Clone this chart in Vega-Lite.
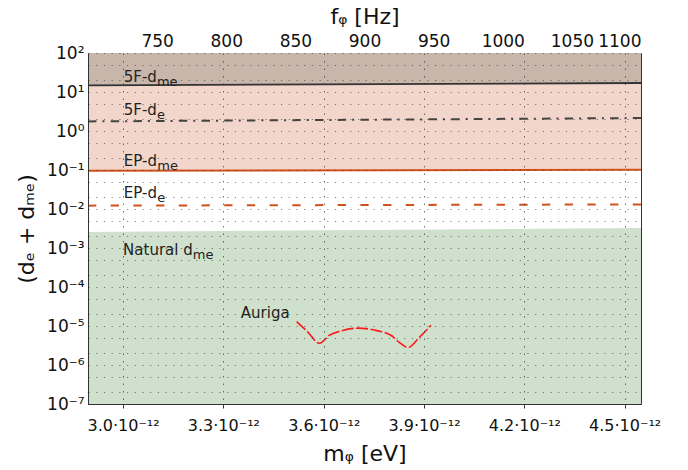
{
  "$schema": "https://vega.github.io/schema/vega-lite/v6.json",
  "width": 553,
  "height": 351,
  "autosize": {"type": "none"},
  "padding": {"left": 88, "top": 53, "right": 47, "bottom": 66},
  "config": {
    "font": "DejaVu Sans",
    "view": {"stroke": "#333", "strokeWidth": 1},
    "axis": {"labelColor": "#111", "titleColor": "#111", "titleFontWeight": "normal", "domainColor": "#333", "tickColor": "#333"}
  },
  "datasets": {
    "bands": [
      {"band": "5F", "m": 2.895, "lo": 14.8, "hi": 100},
      {"band": "5F", "m": 4.549, "lo": 17, "hi": 100},
      {"band": "EP", "m": 2.895, "lo": 0.096, "hi": 14.8},
      {"band": "EP", "m": 4.549, "lo": 0.102, "hi": 17},
      {"band": "Nat", "m": 2.895, "lo": 1e-7, "hi": 0.00257},
      {"band": "Nat", "m": 4.549, "lo": 1e-7, "hi": 0.00326}
    ],
    "lines": [
      {"s": "5F-dme", "m": 2.895, "v": 14.8},
      {"s": "5F-dme", "m": 4.549, "v": 17},
      {"s": "5F-de", "m": 2.895, "v": 1.76},
      {"s": "5F-de", "m": 4.549, "v": 2.15},
      {"s": "EP-dme", "m": 2.895, "v": 0.096},
      {"s": "EP-dme", "m": 4.549, "v": 0.102},
      {"s": "EP-de", "m": 2.895, "v": 0.0122},
      {"s": "EP-de", "m": 4.549, "v": 0.0131}
    ],
    "auriga": [
      {"m": 3.519, "v": 1.3e-5},
      {"m": 3.552, "v": 7.1e-6},
      {"m": 3.587, "v": 3.6e-6},
      {"m": 3.617, "v": 5.8e-6},
      {"m": 3.652, "v": 7.5e-6},
      {"m": 3.702, "v": 8.8e-6},
      {"m": 3.762, "v": 7.5e-6},
      {"m": 3.801, "v": 5.8e-6},
      {"m": 3.826, "v": 3.8e-6},
      {"m": 3.852, "v": 2.8e-6},
      {"m": 3.886, "v": 5.1e-6},
      {"m": 3.921, "v": 1.05e-5}
    ],
    "labels": [
      {"t": "5F-d", "m": 3.002, "v": 17.6},
      {"t": "5F-d", "m": 3.002, "v": 2.62},
      {"t": "EP-d", "m": 3.002, "v": 0.129},
      {"t": "EP-d", "m": 3.002, "v": 0.0191},
      {"t": "Natural d", "m": 3.0, "v": 0.000645},
      {"t": "Auriga", "m": 3.352, "v": 1.6e-5}
    ],
    "subs": [
      {"t": "me", "m": 3.1012, "v": 17.6},
      {"t": "e", "m": 3.1012, "v": 2.62},
      {"t": "me", "m": 3.1024, "v": 0.129},
      {"t": "e", "m": 3.1024, "v": 0.0191},
      {"t": "me", "m": 3.2084, "v": 0.000645}
    ],
    "freq": [{"f": 700}, {"f": 1100}]
  },
  "layer": [
    {
      "layer": [
        {
          "data": {"name": "bands"},
          "mark": {"type": "area", "opacity": 1},
          "encoding": {
            "x": {"field": "m", "type": "quantitative", "scale": {"domain": [2.895, 4.549], "nice": false, "zero": false},
              "axis": {"orient": "bottom", "values": [3.0, 3.3, 3.6, 3.9, 4.2, 4.5], "labelExpr": "format(datum.value, '.1f') + '·10⁻¹²'", "labelFontSize": 16, "labelPadding": 9, "tickSize": 4, "title": "mᵩ [eV]", "titleFontSize": 22, "titlePadding": 10, "grid": true, "gridDash": [1.5, 6], "gridColor": "#333", "gridOpacity": 0.7, "zindex": 1}},
            "y": {"field": "hi", "type": "quantitative", "scale": {"type": "log", "domain": [1e-7, 100], "nice": false},
              "axis": {"values": [1e-7, 2e-7, 5e-7, 1e-6, 2e-6, 5e-6, 1e-5, 2e-5, 5e-5, 1e-4, 2e-4, 5e-4, 1e-3, 2e-3, 5e-3, 0.01, 0.02, 0.05, 0.1, 0.2, 0.5, 1, 2, 5, 10, 20, 50, 100],
                "labelExpr": "abs(log(datum.value)/LN10 - round(log(datum.value)/LN10)) < 0.01 ? '10' + (datum.value < 0.5 ? '⁻' : '') + ['⁰','¹','²','³','⁴','⁵','⁶','⁷','⁸','⁹'][abs(round(log(datum.value)/LN10))] : ''",
                "labelOverlap": false, "labelFontSize": 17, "labelPadding": 4, "ticks": false, "title": "(dₑ + dₘₑ)", "titleFontSize": 22, "titlePadding": 8, "grid": true, "gridDash": [1.2, 6.5], "gridColor": "#333", "gridOpacity": 0.6, "zindex": 1}},
            "y2": {"field": "lo"},
            "color": {"field": "band", "type": "nominal", "scale": {"domain": ["5F", "EP", "Nat"], "range": ["#c9b6ab", "#f3d6cb", "#cfe1cc"]}, "legend": null}
          }
        },
        {
          "data": {"name": "lines"},
          "mark": {"type": "line", "color": "#333", "strokeWidth": 1.8},
          "transform": [{"filter": "datum.s == '5F-dme'"}],
          "encoding": {"x": {"field": "m", "type": "quantitative"}, "y": {"field": "v", "type": "quantitative"}}
        },
        {
          "data": {"name": "lines"},
          "mark": {"type": "line", "color": "#444", "strokeWidth": 2, "strokeDash": [8.5, 6, 2, 6.2]},
          "transform": [{"filter": "datum.s == '5F-de'"}],
          "encoding": {"x": {"field": "m", "type": "quantitative"}, "y": {"field": "v", "type": "quantitative"}}
        },
        {
          "data": {"name": "lines"},
          "mark": {"type": "line", "color": "#d2501a", "strokeWidth": 2},
          "transform": [{"filter": "datum.s == 'EP-dme'"}],
          "encoding": {"x": {"field": "m", "type": "quantitative"}, "y": {"field": "v", "type": "quantitative"}}
        },
        {
          "data": {"name": "lines"},
          "mark": {"type": "line", "color": "#d2501a", "strokeWidth": 2, "strokeDash": [8.3, 14.4]},
          "transform": [{"filter": "datum.s == 'EP-de'"}],
          "encoding": {"x": {"field": "m", "type": "quantitative"}, "y": {"field": "v", "type": "quantitative"}}
        },
        {
          "data": {"name": "auriga"},
          "mark": {"type": "line", "color": "#ff1a1a", "strokeWidth": 1.6, "strokeDash": [12, 2.5], "interpolate": "monotone"},
          "encoding": {"x": {"field": "m", "type": "quantitative"}, "y": {"field": "v", "type": "quantitative"}}
        },
        {
          "data": {"name": "labels"},
          "mark": {"type": "text", "align": "left", "baseline": "alphabetic", "fontSize": 15, "color": "#222"},
          "encoding": {"x": {"field": "m", "type": "quantitative"}, "y": {"field": "v", "type": "quantitative"}, "text": {"field": "t"}}
        },
        {
          "data": {"name": "subs"},
          "mark": {"type": "text", "align": "left", "baseline": "alphabetic", "fontSize": 13, "dy": 4, "color": "#222"},
          "encoding": {"x": {"field": "m", "type": "quantitative"}, "y": {"field": "v", "type": "quantitative"}, "text": {"field": "t"}}
        }
      ]
    },
    {
      "data": {"name": "freq"},
      "mark": {"type": "rule", "opacity": 0},
      "encoding": {
        "x": {"field": "f", "type": "quantitative", "scale": {"domain": [700, 1100], "nice": false, "zero": false},
          "axis": {"orient": "top", "values": [750, 800, 850, 900, 950, 1000, 1050, 1100], "format": "d", "labelFontSize": 17, "labelPadding": 3, "tickSize": 0, "title": "fᵩ [Hz]", "titleFontSize": 22, "titlePadding": 4, "grid": false, "domain": false}}
      }
    }
  ],
  "resolve": {"scale": {"x": "independent"}, "axis": {"x": "independent"}}
}
